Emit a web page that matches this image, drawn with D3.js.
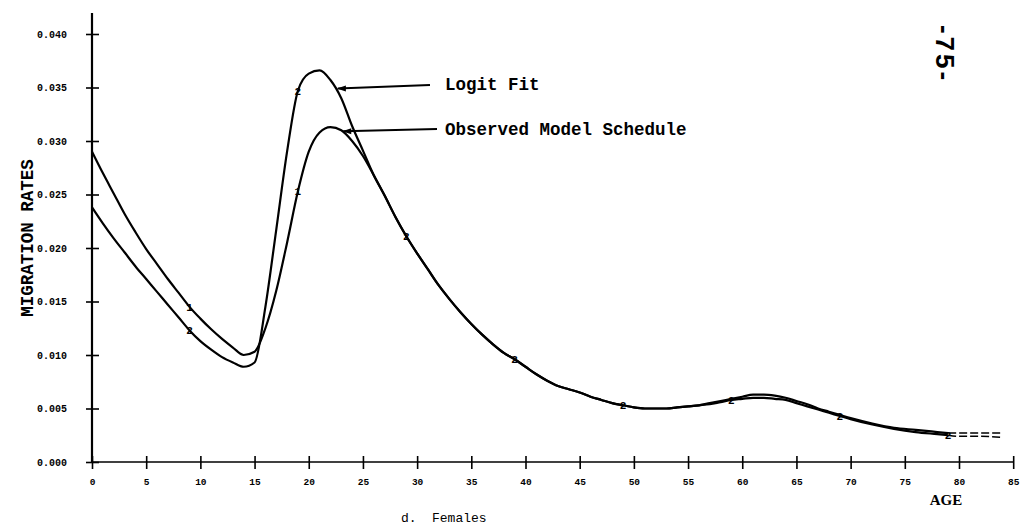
<!DOCTYPE html>
<html>
<head>
<meta charset="utf-8">
<script src="https://cdn.jsdelivr.net/npm/d3@7"></script>
<style>
  html, body { margin: 0; padding: 0; background: #fff; }
  svg { display: block; }
</style>
</head>
<body>
<script>
// Age grid shared by both schedules
const ages = [
  0,1,2,3,4,5,6,7,8,9,10,11,12,13,14,15,16,17,18,19,20,
  21,22,23,24,25,26,27,28,29,30,31,32,33,34,35,36,37,38,39,40,
  41,42,43,44,45,46,47,48,49,50,51,52,53,54,55,56,57,58,59,60,
  61,62,63,64,65,66,67,68,69,70,72,74,76,78,79,80,82,84
];

// Observed model schedule (symbol "1")
const observed = [
  0.0290,0.0270,0.0251,0.0232,0.0215,0.0199,0.0185,0.0171,0.0158,0.0145,0.0134,
  0.0124,0.0115,0.0107,0.0100,0.0103,0.0125,0.0160,0.0205,0.0253,0.0290,
  0.0308,0.0313,0.0310,0.0300,0.0286,0.0268,0.0249,0.0229,0.0211,0.0195,
  0.0180,0.0165,0.0152,0.0140,0.0129,0.0119,0.0110,0.0102,0.0096,0.0089,
  0.0082,0.0076,0.0071,0.0068,0.0065,0.0061,0.0058,0.0055,0.0053,0.0051,
  0.0050,0.0050,0.0050,0.0051,0.0052,0.0053,0.0055,0.0057,0.0059,0.0061,
  0.0063,0.0063,0.0062,0.0060,0.0057,0.0054,0.0050,0.0047,0.0044,0.0041,
  0.0036,0.0032,0.0030,0.0028,0.0027,0.0027,0.0027,0.0027
];

// Logit fit (symbol "2")
const logitFit = [
  0.0238,0.0223,0.0209,0.0196,0.0183,0.0171,0.0159,0.0147,0.0135,0.0123,0.0113,
  0.0105,0.0098,0.0093,0.0089,0.0093,0.0145,0.0217,0.0290,0.0347,0.0363,
  0.0366,0.0357,0.0340,0.0314,0.0291,0.0268,0.0249,0.0229,0.0211,0.0195,
  0.0180,0.0165,0.0152,0.0140,0.0129,0.0119,0.0110,0.0102,0.0096,0.0089,
  0.0082,0.0076,0.0071,0.0068,0.0065,0.0061,0.0058,0.0055,0.0053,0.0051,
  0.0050,0.0050,0.0050,0.0051,0.0052,0.0053,0.0054,0.0056,0.0058,0.0059,
  0.0060,0.0060,0.0059,0.0058,0.0055,0.0052,0.0049,0.0046,0.0043,0.0040,
  0.0035,0.0031,0.0028,0.0026,0.0025,0.0024,0.0024,0.0023
];

const markerAges = [9, 19, 29, 39, 49, 59, 69, 79];
const xTicks = [0,5,10,15,20,25,30,35,40,45,50,55,60,65,70,75,80,85];
const yTicks = [0.000,0.005,0.010,0.015,0.020,0.025,0.030,0.035,0.040];

const W = 1020, H = 527;
const svg = d3.select("body").append("svg")
  .attr("width", W).attr("height", H)
  .style("background", "#fff");

const x = d3.scaleLinear().domain([0, 80]).range([92, 959]);
const y = d3.scaleLinear().domain([0, 0.040]).range([462, 34]);

const mono = "'Liberation Mono', 'DejaVu Sans Mono', monospace";

// Axes: plain lines with cross ticks
const xAxis = d3.axisBottom(x).tickValues(xTicks).tickSizeInner(6).tickSizeOuter(0)
  .tickFormat(d3.format("d"));
const gx = svg.append("g").attr("transform", `translate(0,${y(0)})`).call(xAxis);
gx.select(".domain").remove();
gx.selectAll(".tick line").attr("y1", -6).attr("y2", 7).attr("stroke", "#000").attr("stroke-width", 1.6);
gx.selectAll(".tick text").attr("y", 16).attr("font-family", mono)
  .attr("font-weight", "bold").attr("font-size", 9.5).attr("fill", "#000");
svg.append("line")
  .attr("x1", x(0)).attr("x2", x(85))
  .attr("y1", y(0)).attr("y2", y(0))
  .attr("stroke", "#000").attr("stroke-width", 1.6);

const yAxis = d3.axisLeft(y).tickValues(yTicks).tickSizeInner(6).tickSizeOuter(0)
  .tickFormat(d3.format(".3f"));
const gy = svg.append("g").attr("transform", `translate(${x(0)},0)`).call(yAxis);
gy.select(".domain").remove();
gy.selectAll(".tick line").attr("x1", -6).attr("x2", 7).attr("stroke", "#000").attr("stroke-width", 1.6);
gy.selectAll(".tick text").attr("x", -25).attr("font-family", mono)
  .attr("font-weight", "bold").attr("font-size", 10).attr("fill", "#000");
svg.append("line")
  .attr("x1", x(0)).attr("x2", x(0))
  .attr("y1", 13).attr("y2", y(0))
  .attr("stroke", "#000").attr("stroke-width", 2.2);

// Curves: solid up to age 79, dashed beyond
const line = d3.line()
  .x(d => x(d.age)).y(d => y(d.v))
  .curve(d3.curveMonotoneX);

function series(vals) {
  return ages.map((a, i) => ({ age: a, v: vals[i] }));
}
[observed, logitFit].forEach(vals => {
  const pts = series(vals);
  svg.append("path").datum(pts.filter(d => d.age <= 79))
    .attr("d", line).attr("fill", "none")
    .attr("stroke", "#000").attr("stroke-width", 2.2).attr("stroke-linejoin", "round");
  svg.append("path").datum(pts.filter(d => d.age >= 79))
    .attr("d", line).attr("fill", "none")
    .attr("stroke", "#000").attr("stroke-width", 1.5).attr("stroke-dasharray", "8,3");
});

// Plotting symbols; where both schedules meet, the "2" is drawn over the "1"
markerAges.forEach(a => {
  const i = ages.indexOf(a);
  const y1 = y(observed[i]), y2 = y(logitFit[i]);
  const syms = Math.abs(y1 - y2) < 9 ? [[y2, "2"]] : [[y1, "1"], [y2, "2"]];
  syms.forEach(([yy, sym]) => {
    svg.append("text")
      .attr("x", x(a)).attr("y", yy + 4)
      .attr("text-anchor", "middle")
      .attr("font-family", mono).attr("font-weight", "bold").attr("font-size", 11)
      .attr("fill", "#000").text(sym);
  });
});

// Annotation arrows
const logitTipAge = 22.5, logitTipV = 0.0349;
const obsTipAge = 23, obsTipV = 0.0309;
svg.append("line")
  .attr("x1", 430).attr("y1", 85)
  .attr("x2", x(logitTipAge) + 2).attr("y2", y(logitTipV))
  .attr("stroke", "#000").attr("stroke-width", 2);
svg.append("path")
  .attr("d", `M${x(logitTipAge) + 1},${y(logitTipV)} l9,-3 l0,6 Z`).attr("fill", "#000");
svg.append("line")
  .attr("x1", 437).attr("y1", 129)
  .attr("x2", x(obsTipAge) + 2).attr("y2", y(obsTipV))
  .attr("stroke", "#000").attr("stroke-width", 2);
svg.append("path")
  .attr("d", `M${x(obsTipAge) + 1},${y(obsTipV)} l9,-3 l0,6 Z`).attr("fill", "#000");

svg.append("text").attr("x", 445).attr("y", 90)
  .attr("font-family", mono).attr("font-weight", "bold").attr("font-size", 17.5)
  .attr("fill", "#000").text("Logit Fit");
svg.append("text").attr("x", 445).attr("y", 135)
  .attr("font-family", mono).attr("font-weight", "bold").attr("font-size", 17.5)
  .attr("fill", "#000").text("Observed Model Schedule");

// Axis titles
svg.append("text")
  .attr("transform", "translate(33,238) rotate(-90)")
  .attr("text-anchor", "middle")
  .attr("font-family", mono).attr("font-weight", "bold")
  .attr("font-size", 17.5).attr("fill", "#000")
  .text("MIGRATION RATES");
svg.append("text").attr("x", 946).attr("y", 505)
  .attr("text-anchor", "middle")
  .attr("font-family", "'Liberation Serif', serif").attr("font-weight", "bold")
  .attr("font-size", 15).attr("fill", "#000").text("AGE");
svg.append("text").attr("x", 401).attr("y", 522)
  .attr("font-family", mono).attr("font-size", 13).attr("fill", "#000").text("d.");
svg.append("text").attr("x", 432).attr("y", 522)
  .attr("font-family", mono).attr("font-size", 13).attr("fill", "#000").text("Females");

// Page number, set sideways
svg.append("text")
  .attr("transform", "translate(936,54) rotate(90)")
  .attr("text-anchor", "middle")
  .attr("font-family", "'Liberation Sans', sans-serif").attr("font-weight", "bold")
  .attr("font-size", 26).attr("letter-spacing", 3).attr("fill", "#000")
  .text("-75-");
</script>
</body>
</html>
